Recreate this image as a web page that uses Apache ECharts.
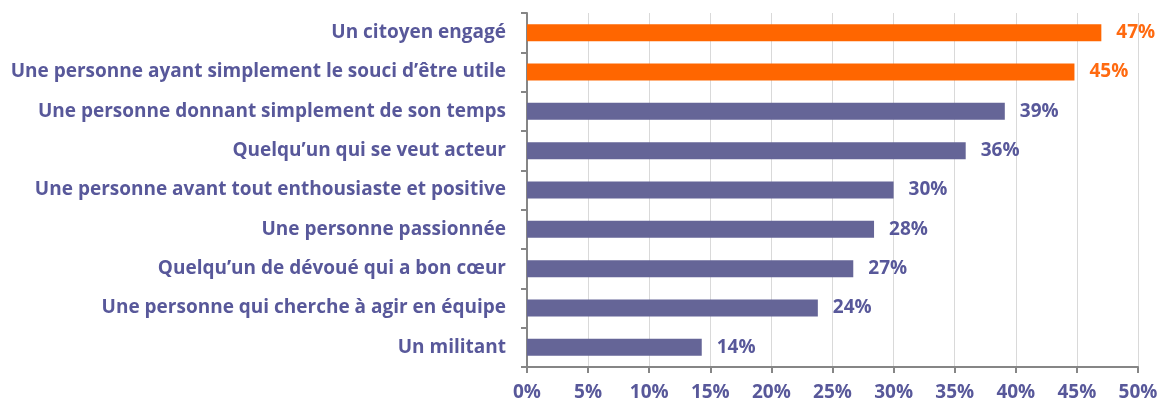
<!DOCTYPE html>
<html><head><meta charset="utf-8">
<script src="https://cdn.jsdelivr.net/npm/echarts@6/dist/echarts.min.js"></script>
<style>html,body{margin:0;padding:0;background:#fff}#c{width:1161px;height:403px}</style>
</head><body><div id="c"></div>
<script>
const categories = [
  "Un citoyen engagé",
  "Une personne ayant simplement le souci d’être utile",
  "Une personne donnant simplement de son temps",
  "Quelqu’un qui se veut acteur",
  "Une personne avant tout enthousiaste et positive",
  "Une personne passionnée",
  "Quelqu’un de dévoué qui a bon cœur",
  "Une personne qui cherche à agir en équipe",
  "Un militant"
];
const values = [47.0, 44.8, 39.1, 35.9, 30.0, 28.4, 26.7, 23.8, 14.3];
const highlighted = [true, true, false, false, false, false, false, false, false];
const xTicks = [0, 5, 10, 15, 20, 25, 30, 35, 40, 45, 50];

const ORANGE = '#ff6600', PURPLE = '#656597', TEXT = '#58589a', ORANGE_TXT = '#ff6a10';
const FONT = 'Open Sans';
const chart = echarts.init(document.getElementById('c'));
chart.setOption({
  animation: false,
  grid: {left: 527, right: 23, top: 13, bottom: 36, containLabel: false},
  xAxis: {
    type: 'value', min: xTicks[0], max: xTicks[xTicks.length-1], interval: 5,
    axisLine: {show: true, lineStyle: {color: '#868686', width: 2}},
    axisTick: {show: true, length: 6, lineStyle: {color: '#868686', width: 2}},
    splitLine: {show: true, lineStyle: {color: '#d9d9d9', width: 1}},
    axisLabel: {formatter: v => v + '%', color: TEXT, fontFamily: FONT, fontWeight: 'bold', fontSize: 19, margin: 16}
  },
  yAxis: {
    type: 'category', data: categories, inverse: true,
    axisLine: {show: true, lineStyle: {color: '#868686', width: 2}},
    axisTick: {show: true, length: 6, lineStyle: {color: '#868686', width: 2}},
    axisLabel: {color: TEXT, fontFamily: FONT, fontWeight: 'bold', fontSize: 19, margin: 21}
  },
  series: [{
    type: 'bar', barWidth: 17,
    data: values.map((v, i) => ({
      value: v,
      itemStyle: {color: highlighted[i] ? ORANGE : PURPLE},
      label: {color: highlighted[i] ? ORANGE_TXT : TEXT}
    })),
    label: {show: true, position: 'right', distance: 15, formatter: p => Math.round(p.value) + '%',
      fontFamily: FONT, fontWeight: 'bold', fontSize: 19}
  }]
});
</script></body></html>
